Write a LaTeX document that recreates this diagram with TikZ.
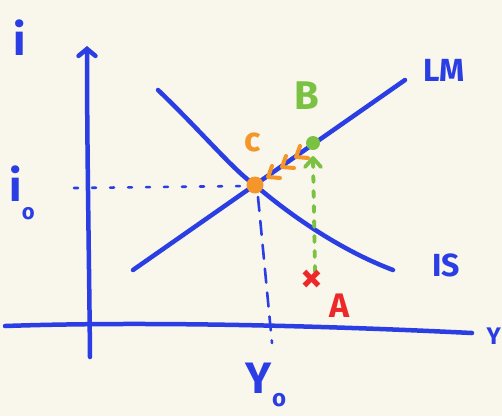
\documentclass[tikz,border=0pt]{standalone}
\usepackage{fontspec}
\setmainfont{Fira Sans}
\usetikzlibrary{arrows.meta}
\definecolor{bgc}{RGB}{249,246,236}
\definecolor{pen}{RGB}{42,62,228}
\definecolor{gpen}{RGB}{124,194,66}
\definecolor{opn}{RGB}{245,150,42}
\definecolor{rpen}{RGB}{236,40,40}
\tikzset{
  stroke/.style={line width=4.5pt, line cap=round, line join=round},
  lbl/.style={inner sep=0pt, font=\bfseries\fontsize{#1}{#1}\selectfont},
  lbl/.default=30,
  guide/.style={pen, line width=2.6pt, line cap=round},
  chev/.style={opn, line width=4pt, line cap=round, line join=round},
}
\begin{document}
\begin{tikzpicture}[x=1pt,y=-1pt]
\fill[bgc] (0,0) rectangle (502,416);
\useasboundingbox (0,0) rectangle (502,416);
% coordinates
\coordinate (yb) at (90,357);
\coordinate (yt) at (87,46);
\coordinate (xl) at (5,326);
\coordinate (xr) at (472,333);
\coordinate (lma) at (133,270);
\coordinate (lmb) at (405,80);
\coordinate (isa) at (158,90);
\coordinate (isb) at (393,270);
\coordinate (E) at (255,185);
\coordinate (Bp) at (313,143);
\coordinate (hd) at (74,188);
\coordinate (vd) at (272,343);
\coordinate (Ab) at (315,272);
\coordinate (At) at (313,158);
% axes
\draw[pen, stroke, -{Straight Barb[length=7pt,width=17pt,line cap=round]}] (yb) .. controls (89,250) and (87,150) .. (yt);
\draw[pen, stroke] (xl) .. controls (150,321) and (330,326) .. (xr);
% guides
\draw[guide, dash pattern=on 4pt off 14pt] (hd) -- (245,186);
\draw[guide, dash pattern=on 14pt off 10pt] (258,197) -- (vd);
% curves
\draw[pen, stroke] (lma) -- (lmb);
\draw[pen, stroke] (isa) .. controls (200,130) and (235,172) .. (E) .. controls (290,215) and (340,250) .. (isb);
% A -> B
\draw[gpen, line width=3.8pt, line cap=round, dash pattern=on 6pt off 9pt] (Ab) -- (At);
\draw[gpen, line width=3.8pt, line cap=round, line join=round] (305,167) -- (313,158) -- (321,167);
% chevrons
\foreach \tx/\ty in {268/177, 282/167, 296/157}{
  \draw[chev] (\tx+4,\ty-11) -- (\tx,\ty) -- (\tx+12,\ty+1);
}
% dots
\fill[opn] (E) circle (8.5pt);
\fill[gpen] (Bp) circle (7pt);
% labels
\node[lbl=44, pen] (li) at (20,38) {i};
\node[lbl=44, pen] (li0) at (22,193) {i\raisebox{-0.4em}{\fontsize{22}{22}\selectfont o}};
\node[lbl=44, pen] (lY0) at (266,385) {Y\raisebox{-0.3em}{\fontsize{24}{24}\selectfont o}};
\node[lbl=32, pen] (lLM) at (444,70) {LM};
\node[lbl=32, pen] (lIS) at (446,265) {IS};
\node[lbl=40, gpen] (lB) at (307,96) {B};
\node[lbl=34, opn] (lC) at (253,142) {c};
\node[lbl=34, rpen] (lA) at (340,306) {A};
\node[lbl=44, rpen] (lx) at (312,281) {×};
\node[lbl=24, pen, anchor=east] (lXY) at (501,336) {Y};
\end{tikzpicture}
\end{document}
